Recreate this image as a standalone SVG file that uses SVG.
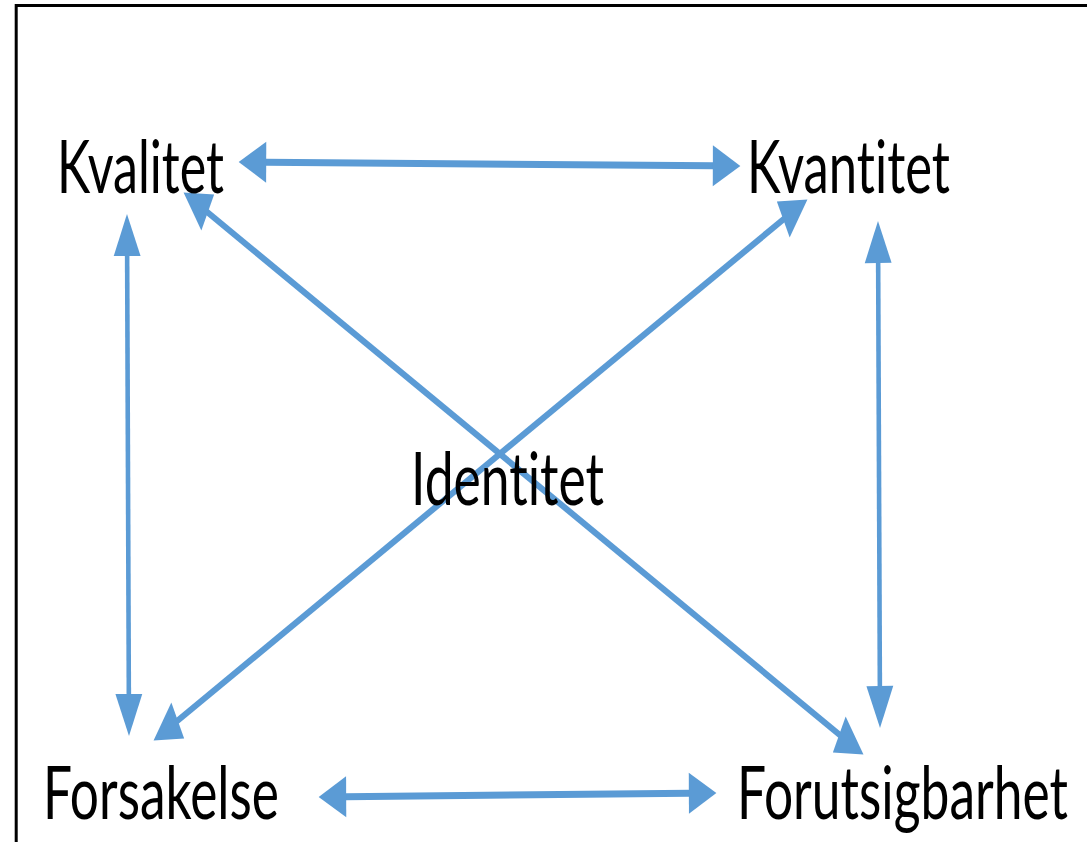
<svg xmlns="http://www.w3.org/2000/svg" width="1087" height="842" viewBox="0 0 1087 842">
<style>
.lbl{font-family:Lato,"Liberation Sans",sans-serif;font-size:74px;fill:#000000;font-variant-ligatures:none;font-feature-settings:"liga" 0;}
.con{stroke:#5B9BD5;stroke-width:7;fill:none;marker-start:url(#head);marker-end:url(#head);}
</style>
<defs>
<marker id="head" markerUnits="userSpaceOnUse" markerWidth="42" markerHeight="41" refX="1" refY="20.5" orient="auto-start-reverse" overflow="visible">
<path d="M0,0 L42,20.5 L0,41 Z" fill="#5B9BD5"/>
</marker>
</defs>
<rect x="0" y="0" width="1087" height="842" fill="#ffffff"/>
<path id="frame" d="M16.2,842 V5.6 H1087" fill="none" stroke="#000000" stroke-width="3"/>
<g id="connectors" transform="scale(0.655 1)">
<line class="con" x1="405.4" y1="162.2" x2="1089.3" y2="165.8"/>
<line class="con" x1="194.1" y1="255" x2="196.7" y2="695"/>
<line class="con" x1="316.3" y1="212" x2="1282.2" y2="735"/>
<line class="con" x1="1196.7" y1="219" x2="270.5" y2="721"/>
<line class="con" x1="1340.7" y1="262" x2="1343.3" y2="687"/>
<line class="con" x1="527.5" y1="796.7" x2="1052.7" y2="793.3"/>
</g>
<g id="kvalitet"><text class="lbl" x="57" y="193" textLength="167" lengthAdjust="spacingAndGlyphs">Kvalitet</text></g>
<g id="kvantitet"><text class="lbl" x="747" y="193" textLength="203" lengthAdjust="spacingAndGlyphs">Kvantitet</text></g>
<g id="identitet"><text class="lbl" x="411" y="505" textLength="193" lengthAdjust="spacingAndGlyphs">Identitet</text></g>
<g id="forsakelse"><text class="lbl" x="43" y="819" textLength="236" lengthAdjust="spacingAndGlyphs">Forsakelse</text></g>
<g id="forutsigbarhet"><text class="lbl" x="737" y="819" textLength="331" lengthAdjust="spacingAndGlyphs">Forutsigbarhet</text></g>
</svg>
